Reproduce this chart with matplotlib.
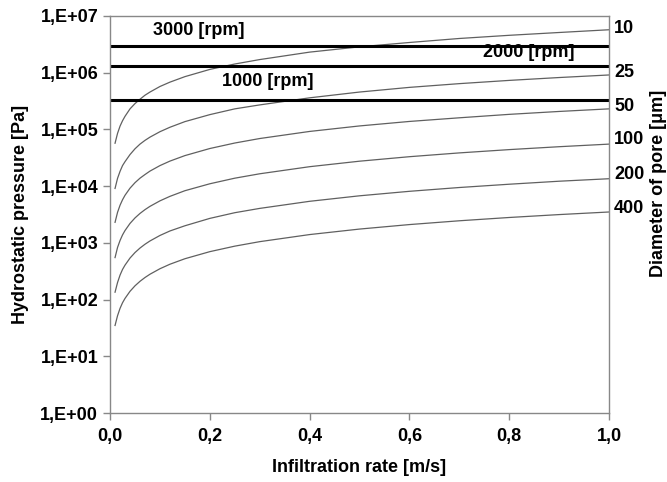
import matplotlib
matplotlib.use("Agg")
import matplotlib.pyplot as plt

# Infiltration rate values at which the curves were read [m/s]
rate = [0.01, 0.015, 0.02, 0.025, 0.03, 0.04, 0.05, 0.06, 0.07, 0.08, 0.1, 0.12, 0.15, 0.2, 0.25, 0.3, 0.4, 0.5, 0.6, 0.7, 0.8, 0.9, 1.0]

# Hydrostatic pressure [Pa] per pore diameter
p_d10 = [5.7e4, 8.5e4, 1.14e5, 1.42e5, 1.7e5, 2.3e5, 2.85e5, 3.4e5, 4.0e5, 4.55e5, 5.7e5, 6.8e5, 8.5e5, 1.14e6, 1.42e6, 1.7e6, 2.3e6, 2.85e6, 3.4e6, 4.0e6, 4.55e6, 5.1e6, 5.7e6]
p_d25 = [9.1e3, 1.37e4, 1.82e4, 2.3e4, 2.7e4, 3.6e4, 4.55e4, 5.5e4, 6.4e4, 7.3e4, 9.1e4, 1.09e5, 1.37e5, 1.82e5, 2.3e5, 2.7e5, 3.6e5, 4.55e5, 5.5e5, 6.4e5, 7.3e5, 8.2e5, 9.1e5]
p_d50 = [2.3e3, 3.45e3, 4.6e3, 5.75e3, 6.9e3, 9.2e3, 1.15e4, 1.38e4, 1.6e4, 1.84e4, 2.3e4, 2.76e4, 3.45e4, 4.6e4, 5.75e4, 6.9e4, 9.2e4, 1.15e5, 1.38e5, 1.6e5, 1.84e5, 2.07e5, 2.3e5]
p_d100 = [5.5e2, 8.3e2, 1.1e3, 1.38e3, 1.65e3, 2.2e3, 2.75e3, 3.3e3, 3.85e3, 4.4e3, 5.5e3, 6.6e3, 8.3e3, 1.1e4, 1.38e4, 1.65e4, 2.2e4, 2.75e4, 3.3e4, 3.85e4, 4.4e4, 4.95e4, 5.5e4]
p_d200 = [1.35e2, 2.0e2, 2.7e2, 3.4e2, 4.05e2, 5.4e2, 6.75e2, 8.1e2, 9.45e2, 1.08e3, 1.35e3, 1.62e3, 2.0e3, 2.7e3, 3.4e3, 4.05e3, 5.4e3, 6.75e3, 8.1e3, 9.45e3, 1.08e4, 1.22e4, 1.35e4]
p_d400 = [35, 52, 70, 88, 105, 140, 175, 210, 245, 280, 350, 420, 525, 700, 875, 1050, 1400, 1750, 2100, 2450, 2800, 3150, 3500]

diameters = ["10", "25", "50", "100", "200", "400"]
series = [p_d10, p_d25, p_d50, p_d100, p_d200, p_d400]

# Rotational speed pressure levels [Pa]
rpm_labels = ["3000 [rpm]", "2000 [rpm]", "1000 [rpm]"]
rpm_pressure = [2.95e6, 1.31e6, 3.3e5]

yticks = [1e0, 1e1, 1e2, 1e3, 1e4, 1e5, 1e6, 1e7]
ytick_labels = ["1,E+00", "1,E+01", "1,E+02", "1,E+03", "1,E+04", "1,E+05", "1,E+06", "1,E+07"]
xticks = [0.0, 0.2, 0.4, 0.6, 0.8, 1.0]
xtick_labels = ["0,0", "0,2", "0,4", "0,6", "0,8", "1,0"]

plt.rcParams['font.family'] = ['Liberation Sans', 'DejaVu Sans']
plt.rcParams['font.weight'] = 'bold'

FS = 13

fig = plt.figure(figsize=(6.67, 4.82), dpi=100)
ax = fig.add_axes([0.165, 0.143, 0.748, 0.824])

for s in series:
    ax.plot(rate, s, color='#606060', lw=0.9)

for p in rpm_pressure:
    ax.axhline(p, color='black', lw=2.2)

ax.set_yscale('log')
ax.set_ylim(1, 1e7)
ax.set_xlim(0, 1.0)
ax.set_yticks(yticks)
ax.set_yticklabels(ytick_labels)
ax.minorticks_off()
ax.set_xticks(xticks)
ax.set_xticklabels(xtick_labels)

for sp in ax.spines.values():
    sp.set_color('#888888')
    sp.set_linewidth(1.0)
ax.tick_params(axis='both', colors='#888888', labelcolor='black', labelsize=FS,
               length=5, width=1.0, direction='out')
ax.tick_params(axis='x', pad=6)
for lab in ax.get_xticklabels() + ax.get_yticklabels():
    lab.set_fontweight('bold')

ax.set_xlabel("Infiltration rate [m/s]", fontsize=FS, fontweight='bold', labelpad=10)
ax.set_ylabel("Hydrostatic pressure [Pa]", fontsize=FS, fontweight='bold', labelpad=8)

# rpm labels
ax.text(0.086, 5.6e6, rpm_labels[0], fontsize=FS, fontweight='bold', va='center', ha='left')
ax.text(0.747, 2.3e6, rpm_labels[1], fontsize=FS, fontweight='bold', va='center', ha='left')
ax.text(0.224, 6.9e5, rpm_labels[2], fontsize=FS, fontweight='bold', va='center', ha='left')

# pore diameter labels at right
label_y = [5.9e6, 1.0e6, 2.5e5, 6.5e4, 1.6e4, 4.0e3]
for lab, yv in zip(diameters, label_y):
    ax.text(1.01, yv, lab, fontsize=FS, fontweight='bold', va='center', ha='left',
            transform=ax.get_yaxis_transform())

fig.text(0.988, 0.62, "Diameter of pore [\u03bcm]", rotation=90, fontsize=FS,
         fontweight='bold', va='center', ha='center')

fig.savefig("out.png", dpi=100)
